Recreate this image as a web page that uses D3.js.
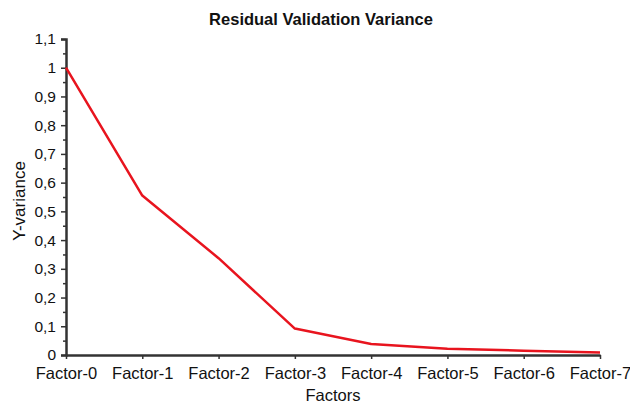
<!DOCTYPE html>
<html>
<head>
<meta charset="utf-8">
<script src="https://cdn.jsdelivr.net/npm/d3@7"></script>
<style>
  body { margin: 0; background: #fff; }
  text { font-family: "Liberation Sans", Arial, sans-serif; fill: #111; }
</style>
</head>
<body>
<div id="chart"></div>
<script>
// data
var factors = ["Factor-0", "Factor-1", "Factor-2", "Factor-3", "Factor-4", "Factor-5", "Factor-6", "Factor-7"];
var variance = [1.0, 0.555, 0.337, 0.092, 0.038, 0.022, 0.015, 0.009];
var yTicks = [0, 0.1, 0.2, 0.3, 0.4, 0.5, 0.6, 0.7, 0.8, 0.9, 1, 1.1];

var W = 630, H = 406;
var margin = {top: 39, right: 30, bottom: 51, left: 66},
    width = W - margin.left - margin.right,
    height = H - margin.top - margin.bottom;

var svg = d3.select("#chart").append("svg")
    .attr("width", W)
    .attr("height", H);

var g = svg.append("g")
    .attr("transform", "translate(" + margin.left + "," + margin.top + ")");

var x = d3.scalePoint()
    .domain(factors)
    .range([0, width]);

var y = d3.scaleLinear()
    .domain([0, 1.1])
    .range([height, 0]);

var fmt = function(d) { return d3.format("~g")(d).replace(".", ","); };

// minor ticks y
var yMinor = d3.range(0.05, 1.1, 0.1);
g.append("g")
    .call(d3.axisLeft(y).tickValues(yMinor).tickSize(3).tickFormat(""))
    .call(function(s) { s.select(".domain").remove(); })
    .selectAll("line").attr("stroke", "#333").attr("stroke-width", 1.5);

var yAxis = g.append("g")
    .call(d3.axisLeft(y).tickValues(yTicks).tickSize(5).tickPadding(5).tickFormat(fmt));
yAxis.select(".domain").attr("stroke", "#333").attr("stroke-width", 2.5);
yAxis.selectAll("line").attr("stroke", "#333").attr("stroke-width", 1.5);
yAxis.selectAll("text").style("font-size", "15.5px").attr("fill", "#111");

// x axis
var xAxis = g.append("g")
    .attr("transform", "translate(0," + height + ")")
    .call(d3.axisBottom(x).tickSize(4).tickPadding(8).tickSizeOuter(0));
xAxis.select(".domain").attr("stroke", "#333").attr("stroke-width", 2.5);
xAxis.selectAll("line").attr("stroke", "#333").attr("stroke-width", 1.5);
xAxis.selectAll("text").style("font-size", "16.5px").attr("fill", "#111");

// line
g.append("path")
    .datum(variance)
    .attr("fill", "none")
    .attr("stroke", "#e8141e")
    .attr("stroke-width", 2.5)
    .attr("stroke-linejoin", "round")
    .attr("d", d3.line()
        .x(function(d, i) { return x(factors[i]); })
        .y(function(d) { return y(d); }));

// title
svg.append("text")
    .attr("x", 321)
    .attr("y", 25)
    .attr("text-anchor", "middle")
    .style("font-size", "16.5px")
    .style("font-weight", "bold")
    .text("Residual Validation Variance");

// axis labels
svg.append("text")
    .attr("x", margin.left + width / 2)
    .attr("y", 401)
    .attr("text-anchor", "middle")
    .style("font-size", "16.5px")
    .text("Factors");

svg.append("text")
    .attr("transform", "translate(25,201) rotate(-90)")
    .attr("text-anchor", "middle")
    .style("font-size", "17px")
    .text("Y-variance");
</script>
</body>
</html>
